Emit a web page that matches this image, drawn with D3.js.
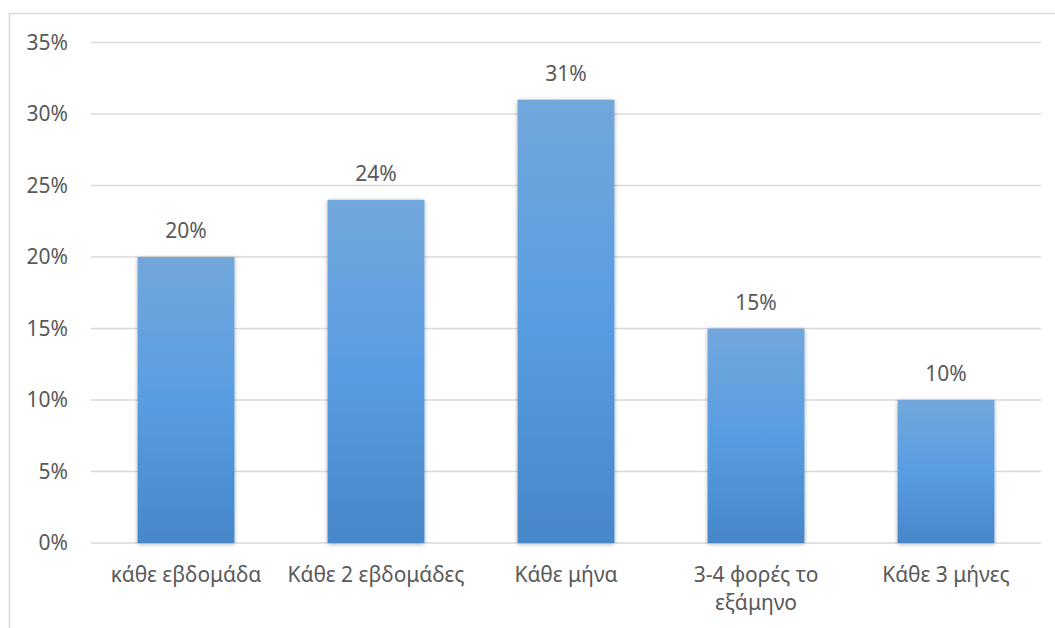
<!DOCTYPE html>
<html>
<head>
<meta charset="utf-8">
<script src="https://cdn.jsdelivr.net/npm/d3@7"></script>
<style>
  html, body { margin: 0; padding: 0; background: #fff; }
  svg { display: block; }
  text { font-family: "Noto Sans", "Open Sans", sans-serif; fill: #595959; }
</style>
</head>
<body>
<svg id="chart" width="1055" height="628"></svg>
<script>
// Frequency categories (Greek labels) and their shares
const categories = [
  ["κάθε εβδομάδα"],
  ["Κάθε 2 εβδομάδες"],
  ["Κάθε μήνα"],
  ["3-4 φορές το", "εξάμηνο"],
  ["Κάθε 3 μήνες"]
];
const values = [0.20, 0.24, 0.31, 0.15, 0.10];
const yTicks = [0, 0.05, 0.10, 0.15, 0.20, 0.25, 0.30, 0.35];

const FONT = "'Noto Sans', 'Open Sans', sans-serif";
const FS = 21;

const svg = d3.select("#chart");
const plot = { left: 91, right: 1041, top: 42.5, bottom: 543 };

// Outer frame of the chart area
svg.append("rect")
  .attr("x", 9.5).attr("y", 13.5)
  .attr("width", 1100).attr("height", 700)
  .attr("fill", "#fff").attr("stroke", "#d9d9d9").attr("stroke-width", 1.5);

const defs = svg.append("defs");
const grad = defs.append("linearGradient")
  .attr("id", "barFill").attr("x1", 0).attr("y1", 0).attr("x2", 0).attr("y2", 1);
grad.append("stop").attr("offset", "0%").attr("stop-color", "#72a7dc");
grad.append("stop").attr("offset", "50%").attr("stop-color", "#589de1");
grad.append("stop").attr("offset", "100%").attr("stop-color", "#4687c9");

const shadow = defs.append("filter").attr("id", "barShadow")
  .attr("x", "-20%").attr("y", "-10%").attr("width", "140%").attr("height", "120%");
shadow.append("feDropShadow")
  .attr("dx", 0).attr("dy", 1).attr("stdDeviation", 2)
  .attr("flood-color", "#000").attr("flood-opacity", 0.3);

const x = d3.scaleBand()
  .domain(d3.range(categories.length))
  .range([plot.left, plot.right])
  .paddingInner(0.49)
  .paddingOuter(0.245);

const y = d3.scaleLinear().domain([0, 0.35]).range([plot.bottom, plot.top]);

// Horizontal gridlines
svg.append("g")
  .selectAll("line")
  .data(yTicks)
  .join("line")
  .attr("x1", plot.left).attr("x2", plot.right)
  .attr("y1", d => y(d)).attr("y2", d => y(d))
  .attr("stroke", "#d9d9d9").attr("stroke-width", 1.5);

// Y axis labels
const yAxis = d3.axisLeft(y)
  .tickValues(yTicks)
  .tickFormat(d3.format(".0%"))
  .tickSize(0)
  .tickPadding(0);
const gy = svg.append("g")
  .attr("transform", `translate(${plot.left - 23},0)`)
  .call(yAxis);
gy.select(".domain").remove();
gy.selectAll("text")
  .attr("font-size", FS)
  .attr("fill", "#595959")
  .style("font-family", FONT);

// Bars
svg.append("g")
  .selectAll("rect")
  .data(values)
  .join("rect")
  .attr("x", (d, i) => x(i))
  .attr("y", d => y(d))
  .attr("width", x.bandwidth())
  .attr("height", d => y(0) - y(d))
  .attr("fill", "url(#barFill)")
  .attr("filter", "url(#barShadow)");

// Value labels above bars
svg.append("g")
  .selectAll("text")
  .data(values)
  .join("text")
  .attr("x", (d, i) => x(i) + x.bandwidth() / 2)
  .attr("y", d => y(d) - 19)
  .attr("text-anchor", "middle")
  .attr("font-size", FS)
  .text(d => d3.format(".0%")(d));

// Category labels
const cat = svg.append("g")
  .selectAll("text")
  .data(categories)
  .join("text")
  .attr("x", (d, i) => x(i) + x.bandwidth() / 2)
  .attr("y", 582)
  .attr("text-anchor", "middle")
  .attr("font-size", FS);
cat.selectAll("tspan")
  .data(d => d)
  .join("tspan")
  .attr("x", function () { return d3.select(this.parentNode).attr("x"); })
  .attr("dy", (d, i) => i === 0 ? 0 : 28)
  .text(d => d);
</script>
</body>
</html>
